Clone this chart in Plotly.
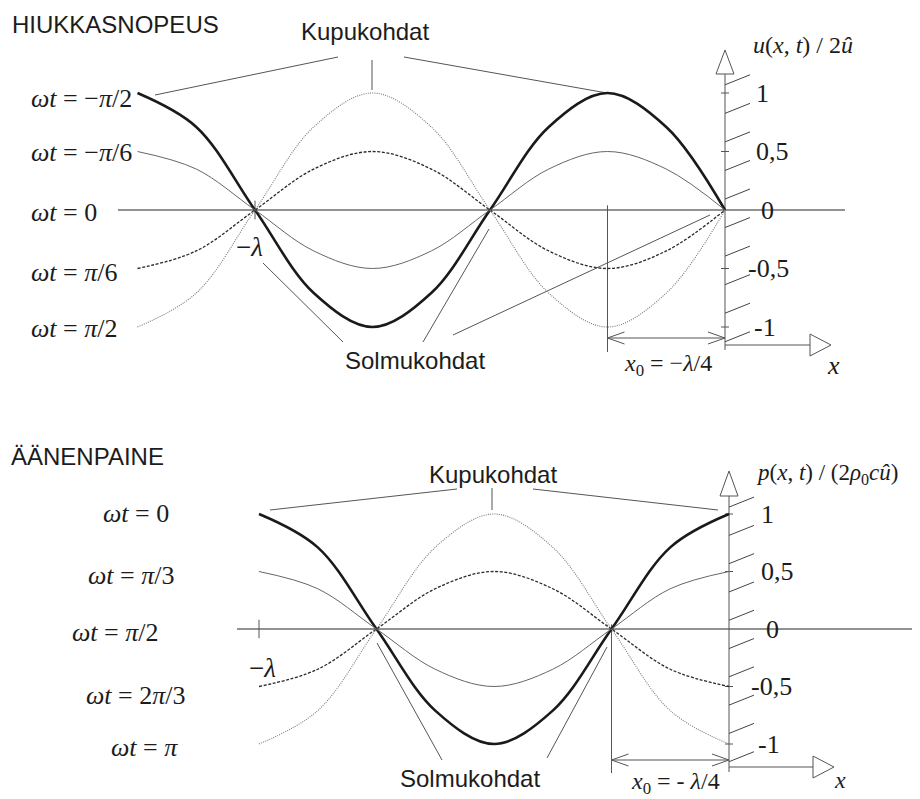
import plotly.graph_objects as go

# ---------------- data (x in wavelengths, values normalised) ----------------
# Top panel: particle velocity u(x,t)/2û
u_x = [-1.25, -1.125, -1.0, -0.875, -0.75, -0.625, -0.5, -0.375, -0.25, -0.125, 0.0]
u_wt_m90 = [1.0, 0.71, 0.0, -0.71, -1.0, -0.71, 0.0, 0.71, 1.0, 0.71, 0.0]      # ωt = -π/2
u_wt_m30 = [0.5, 0.35, 0.0, -0.35, -0.5, -0.35, 0.0, 0.35, 0.5, 0.35, 0.0]      # ωt = -π/6
u_wt_p30 = [-0.5, -0.35, 0.0, 0.35, 0.5, 0.35, 0.0, -0.35, -0.5, -0.35, 0.0]    # ωt = π/6
u_wt_p90 = [-1.0, -0.71, 0.0, 0.71, 1.0, 0.71, 0.0, -0.71, -1.0, -0.71, 0.0]    # ωt = π/2
u_labels = ["<i>ωt</i> = −<i>π</i>/2", "<i>ωt</i> = −<i>π</i>/6", "<i>ωt</i> = 0",
            "<i>ωt</i> = <i>π</i>/6", "<i>ωt</i> = <i>π</i>/2"]

# Bottom panel: sound pressure p(x,t)/(2ρ0cû)
p_x = [-1.0, -0.875, -0.75, -0.625, -0.5, -0.375, -0.25, -0.125, 0.0]
p_wt_0 = [1.0, 0.71, 0.0, -0.71, -1.0, -0.71, 0.0, 0.71, 1.0]          # ωt = 0
p_wt_60 = [0.5, 0.35, 0.0, -0.35, -0.5, -0.35, 0.0, 0.35, 0.5]         # ωt = π/3
p_wt_120 = [-0.5, -0.35, 0.0, 0.35, 0.5, 0.35, 0.0, -0.35, -0.5]       # ωt = 2π/3
p_wt_180 = [-1.0, -0.71, 0.0, 0.71, 1.0, 0.71, 0.0, -0.71, -1.0]       # ωt = π
p_labels = ["<i>ωt</i> = 0", "<i>ωt</i> = <i>π</i>/3", "<i>ωt</i> = <i>π</i>/2",
            "<i>ωt</i> = 2<i>π</i>/3", "<i>ωt</i> = <i>π</i>"]

tick_vals = [1, 0.5, 0, -0.5, -1]
tick_text = ["1", "0,5", "0", "-0,5", "-1"]

# ---------------- geometry / style ----------------
W, H = 920, 799
OFF = 8  # page body margin: figure pixel 0 lands on screen pixel 8
TOP = dict(x0=725, sx=470, y0=210, sy=117, xr="x", yr="y")
BOT = dict(x0=729, sx=470, y0=629, sy=115, xr="x2", yr="y2")


def dx(p, px):
    return (px - p["x0"]) / p["sx"]


def dy(p, py):
    return (p["y0"] - py) / p["sy"]


SERIF = "Liberation Serif, Times New Roman, serif"
SANS = "Liberation Sans, Arial, sans-serif"
INK = "#1c1c1c"
LINE = "#555555"

styles = {
    "thick": dict(color="#1a1a1a", width=2.6),
    "thin": dict(color="#666666", width=1.0),
    "dash": dict(color="#2a2a2a", width=1.3, dash="3px,1.6px"),
    "dot": dict(color="#7a7a7a", width=1.1, dash="1px,1.2px"),
}

fig = go.Figure()

for xs, ys, st in [(u_x, u_wt_m90, "thick"), (u_x, u_wt_m30, "thin"),
                   (u_x, u_wt_p30, "dash"), (u_x, u_wt_p90, "dot")]:
    fig.add_trace(go.Scatter(x=xs, y=ys, mode="lines", line=dict(shape="spline", smoothing=1.0, **styles[st]),
                             xaxis="x", yaxis="y", hoverinfo="skip"))
for xs, ys, st in [(p_x, p_wt_0, "thick"), (p_x, p_wt_60, "thin"),
                   (p_x, p_wt_120, "dash"), (p_x, p_wt_180, "dot")]:
    fig.add_trace(go.Scatter(x=xs, y=ys, mode="lines", line=dict(shape="spline", smoothing=1.0, **styles[st]),
                             xaxis="x2", yaxis="y2", hoverinfo="skip"))

shapes = []
annots = []


def seg(p, a, b, color=LINE, width=1.0):
    shapes.append(dict(type="line", xref=p["xr"], yref=p["yr"],
                       x0=dx(p, a[0]), y0=dy(p, a[1]), x1=dx(p, b[0]), y1=dy(p, b[1]),
                       line=dict(color=color, width=width), layer="below"))


def dseg(p, x0, y0, x1, y1, color=LINE, width=1.0):
    shapes.append(dict(type="line", xref=p["xr"], yref=p["yr"], x0=x0, y0=y0, x1=x1, y1=y1,
                       line=dict(color=color, width=width), layer="below"))


def tri(p, pts):
    path = "M " + " L ".join(f"{dx(p, a)},{dy(p, b)}" for a, b in pts) + " Z"
    shapes.append(dict(type="path", xref=p["xr"], yref=p["yr"], path=path,
                       fillcolor="white", line=dict(color=LINE, width=1.0)))


def text(p, px, py, t, size, family=SERIF, xanchor="center"):
    annots.append(dict(xref=p["xr"], yref=p["yr"], x=dx(p, px), y=dy(p, py), text=t,
                       showarrow=False, xanchor=xanchor, yanchor="middle",
                       font=dict(family=family, size=size, color=INK)))


def axis_deco(p, ax_top, ax_bot, apex, xaxis_end, hatch_start, hatch_step, x0_bottom, dim_y):
    # vertical axis with open arrow
    dseg(p, 0, dy(p, ax_bot), 0, dy(p, ax_top))
    tri(p, [(p["x0"], apex), (p["x0"] - 9, ax_top + 1), (p["x0"] + 9, ax_top + 1)])
    # small ticks on axis
    for v in [1, 0.5, -0.5, -1]:
        dseg(p, dx(p, p["x0"] - 4), v, dx(p, p["x0"] + 4), v)
    # hatch marks
    for i in range(10):
        v = hatch_start - i * hatch_step
        dseg(p, 0, v, 25 / p["sx"], v + 10 / p["sy"], color="#444444")
    # horizontal x arrow at bottom
    yb = dy(p, ax_bot - 5)
    dseg(p, 0, yb, dx(p, xaxis_end), yb)
    tri(p, [(xaxis_end, ax_bot - 16), (xaxis_end + 21, ax_bot - 5), (xaxis_end, ax_bot + 6)])
    # x0 dimension
    dseg(p, -0.25, 0.04, -0.25, dy(p, x0_bottom))
    yd = dy(p, dim_y)
    dseg(p, -0.25, yd, 0, yd)
    hx = 17 / p["sx"]
    hy = 6 / p["sy"]
    for sgn in (1, -1):
        dseg(p, -0.25, yd, -0.25 + hx, yd + sgn * hy)
        dseg(p, 0, yd, -hx, yd + sgn * hy)


# ---------------- top panel decorations ----------------
seg(TOP, (118, 210), (845, 210), color="#6e6e6e", width=1.3)
dseg(TOP, -1, 0.08, -1, -0.08)
axis_deco(TOP, ax_top=73, ax_bot=350, apex=50, xaxis_end=810,
          hatch_start=1.07, hatch_step=0.244, x0_bottom=352, dim_y=338)
# leaders
seg(TOP, (155, 95), (338, 57))
seg(TOP, (372, 60), (372, 90))
seg(TOP, (404, 57), (607, 93))
seg(TOP, (263, 263), (343, 342))
seg(TOP, (423, 342), (489, 229))
seg(TOP, (453, 335), (710, 215))

text(TOP, 10, 24, "HIUKKASNOPEUS", 24, SANS, "left")
text(TOP, 365, 31, "Kupukohdat", 24, SANS)
text(TOP, 415, 360, "Solmukohdat", 24, SANS)
for lab, py in zip(u_labels, [98, 152, 212, 272, 328]):
    text(TOP, 29, py, lab, 26, SERIF, "left")
text(TOP, 249, 247, "−<i>λ</i>", 27)
for t, v, px in zip(tick_text, tick_vals, [754, 754, 759, 746, 752]):
    annots.append(dict(xref="x", yref="y", x=dx(TOP, px), y=v, text=t, showarrow=False,
                       xanchor="left", yanchor="middle", font=dict(family=SERIF, size=26, color=INK)))
text(TOP, 751, 45, "<i>u</i>(<i>x</i>, <i>t</i>) / 2<i>û</i>", 24, SERIF, "left")
text(TOP, 833, 365, "<i>x</i>", 26)
text(TOP, 668, 365, "<i>x</i><sub>0</sub> = −<i>λ</i>/4", 24)

# ---------------- bottom panel decorations ----------------
seg(BOT, (237, 629), (920, 629), color="#6e6e6e", width=1.3)
dseg(BOT, -1, 0.08, -1, -0.08)
axis_deco(BOT, ax_top=495, ax_bot=772, apex=471, xaxis_end=813,
          hatch_start=1.06, hatch_step=0.246, x0_bottom=773, dim_y=760)
seg(BOT, (270, 510), (457, 489))
seg(BOT, (492, 488), (492, 510))
seg(BOT, (533, 489), (718, 510))
seg(BOT, (377, 643), (442, 760))
seg(BOT, (547, 758), (607, 647))

text(BOT, 9, 456, "ÄÄNENPAINE", 24, SANS, "left")
text(BOT, 493, 474, "Kupukohdat", 24, SANS)
text(BOT, 470, 778, "Solmukohdat", 24, SANS)
for lab, px, py in zip(p_labels, [101, 86, 70, 84, 109], [513, 575, 632, 695, 747]):
    text(BOT, px, py, lab, 26, SERIF, "left")
text(BOT, 262, 668, "−<i>λ</i>", 27)
for t, v, px in zip(tick_text, tick_vals, [759, 759, 764, 749, 756]):
    annots.append(dict(xref="x2", yref="y2", x=dx(BOT, px), y=v, text=t, showarrow=False,
                       xanchor="left", yanchor="middle", font=dict(family=SERIF, size=26, color=INK)))
text(BOT, 754, 474, "<i>p</i>(<i>x</i>, <i>t</i>) / (2<i>ρ</i><sub>0</sub><i>cû</i>)", 23, SERIF, "left")
text(BOT, 840, 780, "<i>x</i>", 24)
text(BOT, 675, 783, "<i>x</i><sub>0</sub> = - <i>λ</i>/4", 24)

# screen pixel range shown by each axis (figure is drawn OFF px in from the page corner)
split = 1 - (400 - OFF) / H
fig.update_layout(
    width=W, height=H, margin=dict(l=0, r=0, t=0, b=0),
    paper_bgcolor="white", plot_bgcolor="white", showlegend=False,
    xaxis=dict(domain=[0, 1], range=[dx(TOP, OFF), dx(TOP, W + OFF)], visible=False, anchor="y"),
    yaxis=dict(domain=[split, 1], range=[dy(TOP, 400), dy(TOP, OFF)], visible=False, anchor="x"),
    xaxis2=dict(domain=[0, 1], range=[dx(BOT, OFF), dx(BOT, W + OFF)], visible=False, anchor="y2"),
    yaxis2=dict(domain=[0, split], range=[dy(BOT, H + OFF), dy(BOT, 400)], visible=False, anchor="x2"),
    shapes=shapes, annotations=annots,
)

fig.write_html("out.html")
